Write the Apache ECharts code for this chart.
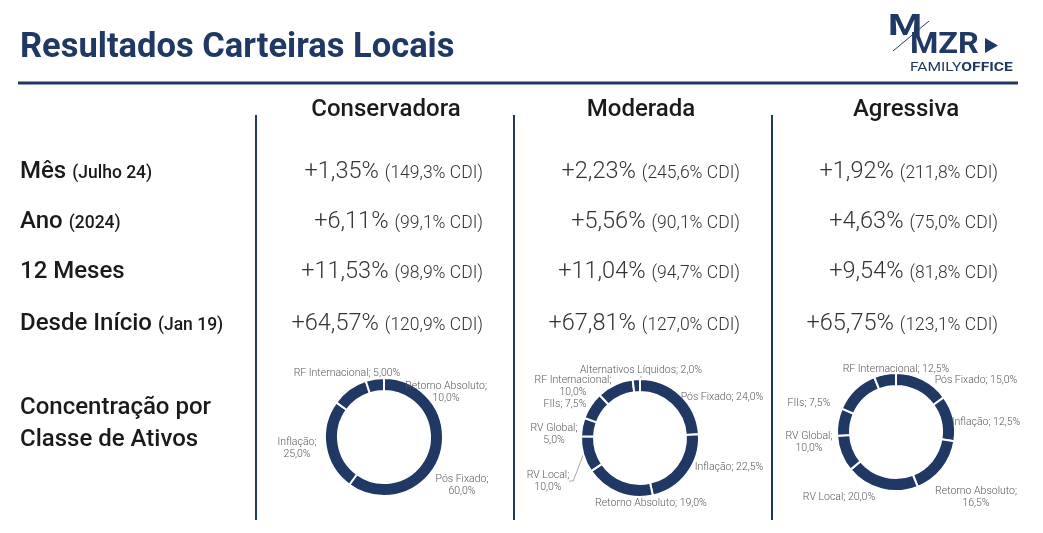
<!DOCTYPE html>
<html>
<head>
<meta charset="utf-8">
<script src="https://cdn.jsdelivr.net/npm/echarts@6/dist/echarts.min.js"></script>
<style>
  html, body { margin: 0; padding: 0; background: #fff; }
  #chart { width: 1043px; height: 533px; }
</style>
</head>
<body>
<div id="chart"></div>
<script>
// dados das carteiras
const portfolios = ['Conservadora', 'Moderada', 'Agressiva'];
const rowLabels = ['Mês', 'Ano', '12 Meses', 'Desde Início'];
const rowSubLabels = ['(Julho 24)', '(2024)', '', '(Jan 19)'];

const retCons = [1.35, 6.11, 11.53, 64.57];
const cdiCons = [149.3, 99.1, 98.9, 120.9];
const retMod = [2.23, 5.56, 11.04, 67.81];
const cdiMod = [245.6, 90.1, 94.7, 127.0];
const retAgr = [1.92, 4.63, 9.54, 65.75];
const cdiAgr = [211.8, 75.0, 81.8, 123.1];

// concentração por classe (sentido horário a partir do topo)
const consClasses = ['Pós Fixado', 'Inflação', 'Retorno Absoluto', 'RF Internacional'];
const consWeights = [60.0, 25.0, 10.0, 5.00];
const modClasses = ['Pós Fixado', 'Inflação', 'Retorno Absoluto', 'RV Local', 'RV Global', 'FIIs', 'RF Internacional', 'Alternativos Líquidos'];
const modWeights = [24.0, 22.5, 19.0, 10.0, 5.0, 7.5, 10.0, 2.0];
const agrClasses = ['Pós Fixado', 'Inflação', 'Retorno Absoluto', 'RV Local', 'RV Global', 'FIIs', 'RF Internacional', ''];
const agrWeights = [15.0, 12.5, 16.5, 20.0, 10.0, 7.5, 12.5, 6.0];

const navy = '#1f3864';
const font = 'Roboto';

const fmt = (v, d) => v.toFixed(d).replace('.', ',');

const chart = echarts.init(document.getElementById('chart'));

// layout da tabela
const colCenters = [386, 641, 906];
const colRight = [483, 740, 998];
const rowY = [172, 222, 272, 324];

// posição dos rótulos dos donuts (como no slide original)
const consLabelPos = [[462, 485], [297, 448], [446, 392], [347, 373]];
const consLabelWrap = [true, true, true, false];
const consLeader = [false, false, false, false];
const modLabelPos = [[722, 397], [729, 467], [651, 503], [548, 481], [554, 434], [565, 404], [573, 386], [641, 370]];
const modLabelWrap = [false, false, false, true, true, false, true, false];
const modLeader = [false, false, false, true, false, false, false, true];
const agrLabelPos = [[976, 380], [986, 422], [976, 497], [839, 497], [809, 442], [809, 403], [896, 369], [0, 0]];
const agrLabelWrap = [false, false, true, false, true, false, false, false];
const agrLeader = [false, false, false, false, false, false, false, false];

const graphic = [];

// título
graphic.push({
  type: 'text', x: 20, y: 48,
  style: { text: 'Resultados Carteiras Locais', font: 'bold 34.5px ' + font, fill: navy, textVerticalAlign: 'middle' }
});
graphic.push({
  type: 'line', shape: { x1: 18, y1: 83, x2: 1018, y2: 83 },
  style: { stroke: navy, lineWidth: 3 }
});

// logo
graphic.push({
  type: 'text', x: 888, y: 27, scaleX: 1.3,
  style: { text: 'M', font: 'bold 30px ' + font, fill: navy, textVerticalAlign: 'middle' }
});
graphic.push({
  type: 'line', shape: { x1: 893, y1: 51, x2: 929, y2: 21 },
  style: { stroke: navy, lineWidth: 1 }
});
graphic.push({
  type: 'text', x: 910, y: 45, scaleX: 1.08,
  style: { text: 'MZR', font: 'bold 30px ' + font, fill: navy, textVerticalAlign: 'middle' }
});
graphic.push({
  type: 'polygon', shape: { points: [[985, 38], [998, 45.5], [985, 53]] },
  style: { fill: navy }
});
graphic.push({
  type: 'text', x: 910, y: 68, scaleX: 1.2,
  style: {
    text: '{a|FAMILY}{b|OFFICE}', textVerticalAlign: 'middle',
    rich: {
      a: { font: '400 13px ' + font, fill: navy },
      b: { font: 'bold 13px ' + font, fill: navy }
    }
  }
});

// separadores verticais
[256, 514, 772].forEach(x => {
  graphic.push({
    type: 'line', shape: { x1: x, y1: 115, x2: x, y2: 520 },
    style: { stroke: navy, lineWidth: 2 }
  });
});

// cabeçalhos
portfolios.forEach((p, i) => {
  graphic.push({
    type: 'text', x: colCenters[i], y: 110,
    style: { text: p, font: '500 24px ' + font, fill: '#1a1a1a', textAlign: 'center', textVerticalAlign: 'middle' }
  });
});

// rótulos das linhas
rowLabels.forEach((r, i) => {
  graphic.push({
    type: 'text', x: 20, y: rowY[i],
    style: {
      text: '{a|' + r + '}' + (rowSubLabels[i] ? '{b|' + rowSubLabels[i] + '}' : ''),
      textVerticalAlign: 'middle',
      rich: {
        a: { font: '500 24px ' + font, fill: '#1a1a1a', verticalAlign: 'bottom' },
        b: { font: '500 17.5px ' + font, fill: '#1a1a1a', verticalAlign: 'bottom', padding: [0, 0, 1, 6] }
      }
    }
  });
});
['Concentração por', 'Classe de Ativos'].forEach((t, i) => {
  graphic.push({
    type: 'text', x: 20, y: 408 + i * 32,
    style: { text: t, font: '500 24px ' + font, fill: '#1a1a1a', textVerticalAlign: 'middle' }
  });
});

// valores
const rets = [retCons, retMod, retAgr];
const cdis = [cdiCons, cdiMod, cdiAgr];
rets.forEach((ret, c) => {
  ret.forEach((v, r) => {
    graphic.push({
      type: 'text', x: colRight[c], y: rowY[r],
      style: {
        text: '{a|+' + fmt(v, 2) + '%}{b|(' + fmt(cdis[c][r], 1) + '% CDI)}',
        textAlign: 'right', textVerticalAlign: 'middle',
        rich: {
          a: { font: '300 23.5px ' + font, fill: '#333', verticalAlign: 'bottom' },
          b: { font: '300 17.5px ' + font, fill: '#333', verticalAlign: 'bottom', padding: [0, 0, 1, 6] }
        }
      }
    });
  });
});

// donuts
function donut(names, weights, center, labelPos, labelWrap, leader, digits) {
  return {
    type: 'pie',
    center: center,
    radius: [46, 59],
    startAngle: 90,
    clockwise: true,
    avoidLabelOverlap: false,
    data: names.map((n, i) => ({
      name: n,
      value: weights[i],
      label: { show: n !== '' },
      labelLine: { show: leader[i] }
    })),
    itemStyle: { color: navy, borderColor: '#fff', borderWidth: 2 },
    label: {
      show: true,
      position: 'outside',
      color: '#595959',
      fontFamily: font,
      fontWeight: 300,
      fontSize: 10.5,
      lineHeight: 12,
      align: 'center',
      formatter: p => p.name + ';' + (labelWrap[p.dataIndex] ? '\n' : ' ') +
        fmt(p.value, digits ? digits[p.dataIndex] : 1) + '%'
    },
    labelLine: { show: false, length: 4, length2: 4, lineStyle: { color: '#a6a6a6', width: 1 } },
    labelLayout: p => ({
      x: labelPos[p.dataIndex][0],
      y: labelPos[p.dataIndex][1],
      align: 'center',
      verticalAlign: 'middle'
    }),
    emphasis: { disabled: true },
    silent: true
  };
}

const option = {
  animation: false,
  backgroundColor: '#fff',
  graphic: graphic,
  series: [
    donut(consClasses, consWeights, [384, 437], consLabelPos, consLabelWrap, consLeader, [1, 1, 1, 2]),
    donut(modClasses, modWeights, [640, 438], modLabelPos, modLabelWrap, modLeader),
    donut(agrClasses, agrWeights, [896, 432], agrLabelPos, agrLabelWrap, agrLeader)
  ]
};

chart.setOption(option);
</script>
</body>
</html>
